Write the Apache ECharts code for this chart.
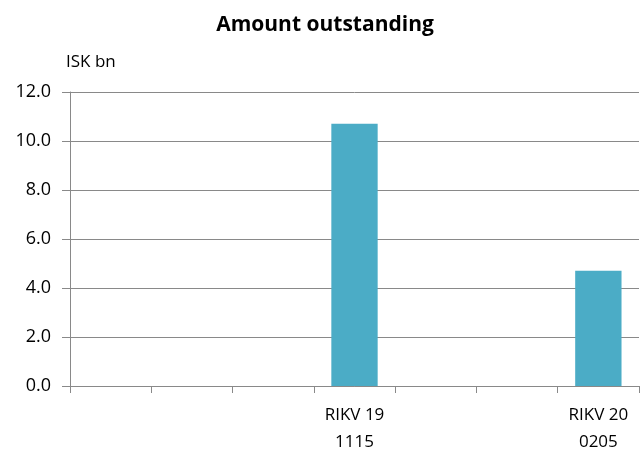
<!DOCTYPE html>
<html>
<head>
<meta charset="utf-8">
<script src="https://cdn.jsdelivr.net/npm/echarts@6/dist/echarts.min.js"></script>
<style>
  html, body { margin: 0; padding: 0; background: #fff; }
  #chart { width: 641px; height: 451px; }
</style>
</head>
<body>
<div id="chart"></div>
<script>
  // 数据
  var categories = ['', '', '', 'RIKV 19\n1115', '', '', 'RIKV 20\n0205']
  var amounts = [null, null, null, 10.7, null, null, 4.7]
  var yTicks = { min: 0, max: 12, interval: 2 }

  var font = '"Open Sans", "Noto Sans", sans-serif'
  var chart = echarts.init(document.getElementById('chart'))
  chart.setOption({
    backgroundColor: '#fff',
    animation: false,
    title: [
      {
        text: 'Amount outstanding',
        left: 320,
        top: 10,
        textAlign: 'center',
        textStyle: { fontFamily: font, fontSize: 21, fontWeight: 'bold', color: '#000' }
      },
      {
        text: 'ISK bn',
        left: 61,
        top: 49,
        textStyle: { fontFamily: font, fontSize: 17, fontWeight: 'normal', color: '#000' }
      }
    ],
    grid: {
      left: 70,
      right: 2,
      top: 92,
      bottom: 65,
      containLabel: false,
      outerBoundsMode: 'none'
    },
    xAxis: {
      type: 'category',
      data: categories,
      boundaryGap: true,
      axisLine: { show: true, lineStyle: { color: '#898989', width: 1 } },
      axisTick: { show: true, alignWithLabel: false, length: 7, lineStyle: { color: '#898989' } },
      axisLabel: {
        interval: 0,
        margin: 16,
        fontFamily: font,
        fontSize: 17,
        lineHeight: 27,
        color: '#000'
      },
      splitLine: { show: false }
    },
    yAxis: {
      type: 'value',
      min: yTicks.min,
      max: yTicks.max,
      interval: yTicks.interval,
      axisLine: { show: true, lineStyle: { color: '#898989', width: 1 } },
      axisTick: { show: true, length: 8, lineStyle: { color: '#898989' } },
      axisLabel: {
        margin: 19,
        fontFamily: font,
        fontSize: 18,
        color: '#000',
        formatter: function (v) { return v.toFixed(1) }
      },
      splitLine: { show: true, lineStyle: { color: '#898989', width: 1 } }
    },
    series: [
      {
        name: 'Amount outstanding',
        type: 'bar',
        data: amounts,
        barWidth: '57%',
        itemStyle: { color: '#4BACC6' }
      }
    ]
  })
</script>
</body>
</html>
